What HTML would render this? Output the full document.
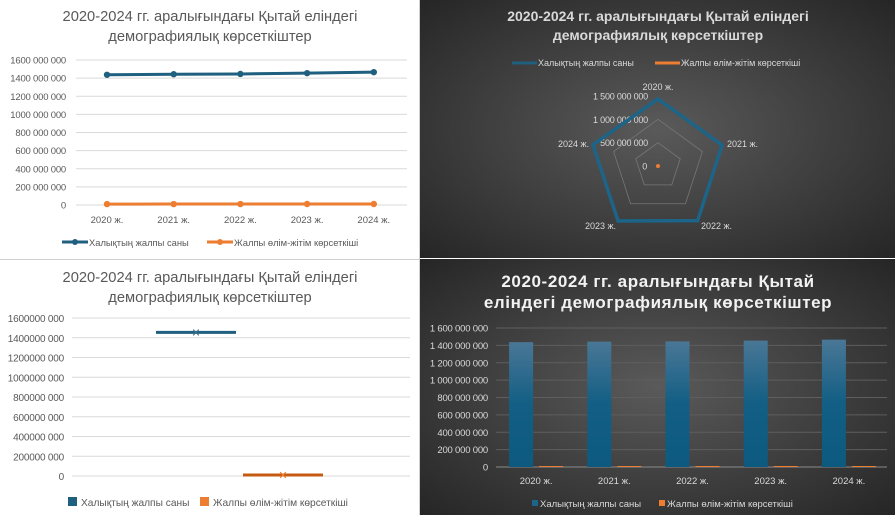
<!DOCTYPE html>
<html><head><meta charset="utf-8"><style>
html,body{margin:0;padding:0;width:895px;height:515px;overflow:hidden;background:#fff}
svg{display:block;font-family:"Liberation Sans",sans-serif}
</style></head><body>
<svg id="s" width="895" height="515" viewBox="0 0 895 515">
<defs>
<radialGradient id="dk" cx="50%" cy="50%" r="70%"><stop offset="0" stop-color="#5a5a5a"/><stop offset="1" stop-color="#262626"/></radialGradient>
<linearGradient id="bg" x1="0" y1="0" x2="0" y2="1"><stop offset="0" stop-color="#4a7796"/><stop offset="0.5" stop-color="#125e84"/><stop offset="1" stop-color="#0d5a80"/></linearGradient>
</defs>
<rect x="0" y="0" width="419" height="259" fill="#fff"/>
<rect x="420" y="0" width="475" height="258" fill="url(#dk)"/>
<rect x="0" y="260" width="419" height="255" fill="#fff"/>
<rect x="420" y="259" width="475" height="256" fill="url(#dk)"/>
<line x1="0" y1="259.5" x2="420" y2="259.5" stroke="#d0d0d0"/>
<line x1="419.5" y1="0" x2="419.5" y2="515" stroke="#d0d0d0"/>
<g id="g"></g>
</svg>
<script>
const categories=["2020 ж.","2021 ж.","2022 ж.","2023 ж.","2024 ж."];
const population=[1437e6,1443e6,1446e6,1455e6,1466e6];
const deaths=[10.0e6,10.4e6,10.4e6,11.1e6,11.0e6];
const lineTicks=[0,2e8,4e8,6e8,8e8,10e8,12e8,14e8,16e8];
const radarTicks=[0,5e8,10e8,15e8];
const stockSeries=["Халықтың жалпы саны","Жалпы өлім-жітім көрсеткіші"];
const stockValues=[1455e6,10.5e6];
const title1="2020-2024 гг. аралығындағы Қытай еліндегі";
const title2="демографиялық көрсеткіштер";
const BLUE="#1f5f7f",ORANGE="#ed7d31";
const g=document.getElementById('g');const NS="http://www.w3.org/2000/svg";
function el(t,a,txt){const e=document.createElementNS(NS,t);for(const k in a)e.setAttribute(k,a[k]);if(txt!=null)e.textContent=txt;g.appendChild(e);return e;}
function fmt(v){return Math.round(v).toString().replace(/\B(?=(\d{3})+(?!\d))/g," ");}
function fmtA(v){let s=fmt(v);return s.length>11?s.replace(" ",""):s;}
function fmt3(v){let s=fmt(v);let i=s.lastIndexOf(" ");return i<0?s:s.slice(0,i).replace(/ /g,"")+s.slice(i);}

// ---------- Panel 1: line chart
{const y=v=>205-v/16e8*145,x=i=>107+i*66.7;
let t=el('text',{x:210,y:21,'text-anchor':'middle','font-size':14.7,fill:'#595959'},title1);
t=el('text',{x:210,y:41,'text-anchor':'middle','font-size':14.7,fill:'#595959'},title2);
lineTicks.forEach(v=>{let l=el('line',{x1:76,x2:407,y1:y(v),y2:y(v),stroke:'#d9d9d9'});
let tx=el('text',{x:66,y:y(v)+3.5,'text-anchor':'end','font-size':9.5,'letter-spacing':'-0.2',fill:'#595959'},fmtA(v));});
categories.forEach((c,i)=>{let tx=el('text',{x:x(i),y:223,'text-anchor':'middle','font-size':9.5,fill:'#595959'},c);});
[[population,BLUE,'population-line'],[deaths,ORANGE,'deaths-line']].forEach(([d,c,n])=>{
let p=el('polyline',{points:d.map((v,i)=>x(i)+','+y(v)).join(' '),fill:'none',stroke:c,'stroke-width':3});
d.forEach((v,i)=>{let m=el('circle',{cx:x(i),cy:y(v),r:3.2,fill:c});});});
[[62,BLUE,stockSeries[0]],[207,ORANGE,stockSeries[1]]].forEach(([lx,c,s])=>{
let l=el('line',{x1:lx,x2:lx+26,y1:242,y2:242,stroke:c,'stroke-width':3});
let m=el('circle',{cx:lx+13,cy:242,r:3,fill:c});
let tx=el('text',{x:lx+27,y:246,'font-size':9.4,fill:'#595959'},s);});}

// ---------- Panel 2: radar
{const cx=658,cy=166,R=70,mx=15e8;
const pt=(i,v)=>{const a=-Math.PI/2+i*2*Math.PI/5,r=v/mx*R;return [cx+r*Math.cos(a),cy+r*Math.sin(a)];};
let t=el('text',{x:658,y:21,'text-anchor':'middle','font-size':14,'font-weight':'bold',fill:'#d9d9d9'},title1);
t=el('text',{x:658,y:40,'text-anchor':'middle','font-size':14,'font-weight':'bold',fill:'#d9d9d9'},title2);
[[512,BLUE,stockSeries[0]],[655,ORANGE,stockSeries[1]]].forEach(([lx,c,s])=>{let l=el('line',{x1:lx,x2:lx+25,y1:63,y2:63,stroke:c,'stroke-width':3});
let tx=el('text',{x:lx+26,y:66,'font-size':9,fill:'#d9d9d9'},s);});
radarTicks.slice(1,3).forEach(v=>{let p=el('polygon',{points:categories.map((c,i)=>pt(i,v).join(',')).join(' '),fill:'none',stroke:'#777','stroke-width':0.8});});
radarTicks.forEach(v=>{let tx=el('text',{x:v?648:647,y:cy-v/mx*R+3.5,'text-anchor':'end','font-size':9,'letter-spacing':'-0.2',fill:'#d9d9d9'},fmt(v));});
const lp=[[658,90,'middle'],[727,147,'start'],[701,229,'start'],[616,229,'end'],[589,147,'end']];
categories.forEach((c,i)=>{let tx=el('text',{x:lp[i][0],y:lp[i][1],'text-anchor':lp[i][2],'font-size':9,fill:'#d9d9d9'},c);});
let p=el('polygon',{points:population.map((v,i)=>pt(i,v).join(',')).join(' '),fill:'none',stroke:'#1c6488','stroke-width':3.5,'stroke-linejoin':'miter'});
p=el('polygon',{points:deaths.map((v,i)=>pt(i,v).join(',')).join(' '),fill:'none',stroke:ORANGE,'stroke-width':3});}

// ---------- Panel 3: stock-like chart
{const y=v=>476-v/16e8*158,xs=[196,283];
let t=el('text',{x:210,y:282,'text-anchor':'middle','font-size':14.7,fill:'#595959'},title1);
t=el('text',{x:210,y:302,'text-anchor':'middle','font-size':14.7,fill:'#595959'},title2);
lineTicks.forEach(v=>{let l=el('line',{x1:72,x2:410,y1:y(v),y2:y(v),stroke:'#d9d9d9'});
let tx=el('text',{x:64,y:y(v)+4,'text-anchor':'end','font-size':10,'letter-spacing':'-0.2',fill:'#595959'},fmt3(v));});
stockValues.forEach((v,i)=>{const c=i?'#c55a11':BLUE,cx=xs[i];let l=el('line',{x1:cx-40,x2:cx+40,y1:y(v),y2:y(v),stroke:c,'stroke-width':3});
let m=el('text',{x:cx,y:y(v)+4,'text-anchor':'middle','font-size':11,fill:i?ORANGE:'#3d6e8a'},'✕');});
[[68,BLUE,stockSeries[0]],[200,ORANGE,stockSeries[1]]].forEach(([lx,c,s])=>{let r=el('rect',{x:lx,y:497,width:9,height:9,fill:c});
let tx=el('text',{x:lx+13,y:506,'font-size':10.2,fill:'#595959'},s);});}

// ---------- Panel 4: bar chart
{const y=v=>467-v/16e8*139,x0=496,cw=78.2;
let t=el('text',{x:658,y:287,'text-anchor':'middle','font-size':17,'font-weight':'bold','letter-spacing':'0.6',fill:'#f2f2f2'},"2020-2024 гг. аралығындағы Қытай");
t=el('text',{x:658,y:308,'text-anchor':'middle','font-size':17,'font-weight':'bold','letter-spacing':'0.6',fill:'#f2f2f2'},"еліндегі демографиялық көрсеткіштер");
lineTicks.forEach(v=>{let l=el('line',{x1:x0,x2:887,y1:y(v),y2:y(v),stroke:v?'#5e5e5e':'#8a8a8a'});
let tx=el('text',{x:488,y:y(v)+3.5,'text-anchor':'end','font-size':9.5,'letter-spacing':'-0.2',fill:'#d9d9d9'},fmt(v));});
categories.forEach((c,i)=>{const cx=x0+cw*(i+0.5);
let b=el('rect',{x:cx-26,y:y(population[i]),width:24,height:467-y(population[i]),fill:'url(#bg)'});
let h=Math.max(1,467-y(deaths[i]));let o=el('rect',{x:cx+4,y:467-h,width:24,height:h,fill:ORANGE});
let tx=el('text',{x:cx+1,y:484,'text-anchor':'middle','font-size':9.5,fill:'#d9d9d9'},c);});
[[532,'#1c6488',stockSeries[0]],[659,ORANGE,stockSeries[1]]].forEach(([lx,c,s])=>{let r=el('rect',{x:lx,y:500,width:6,height:6,fill:c});
let tx=el('text',{x:lx+8,y:507,'font-size':9.5,fill:'#d9d9d9'},s);});}
</script>
</body></html>
